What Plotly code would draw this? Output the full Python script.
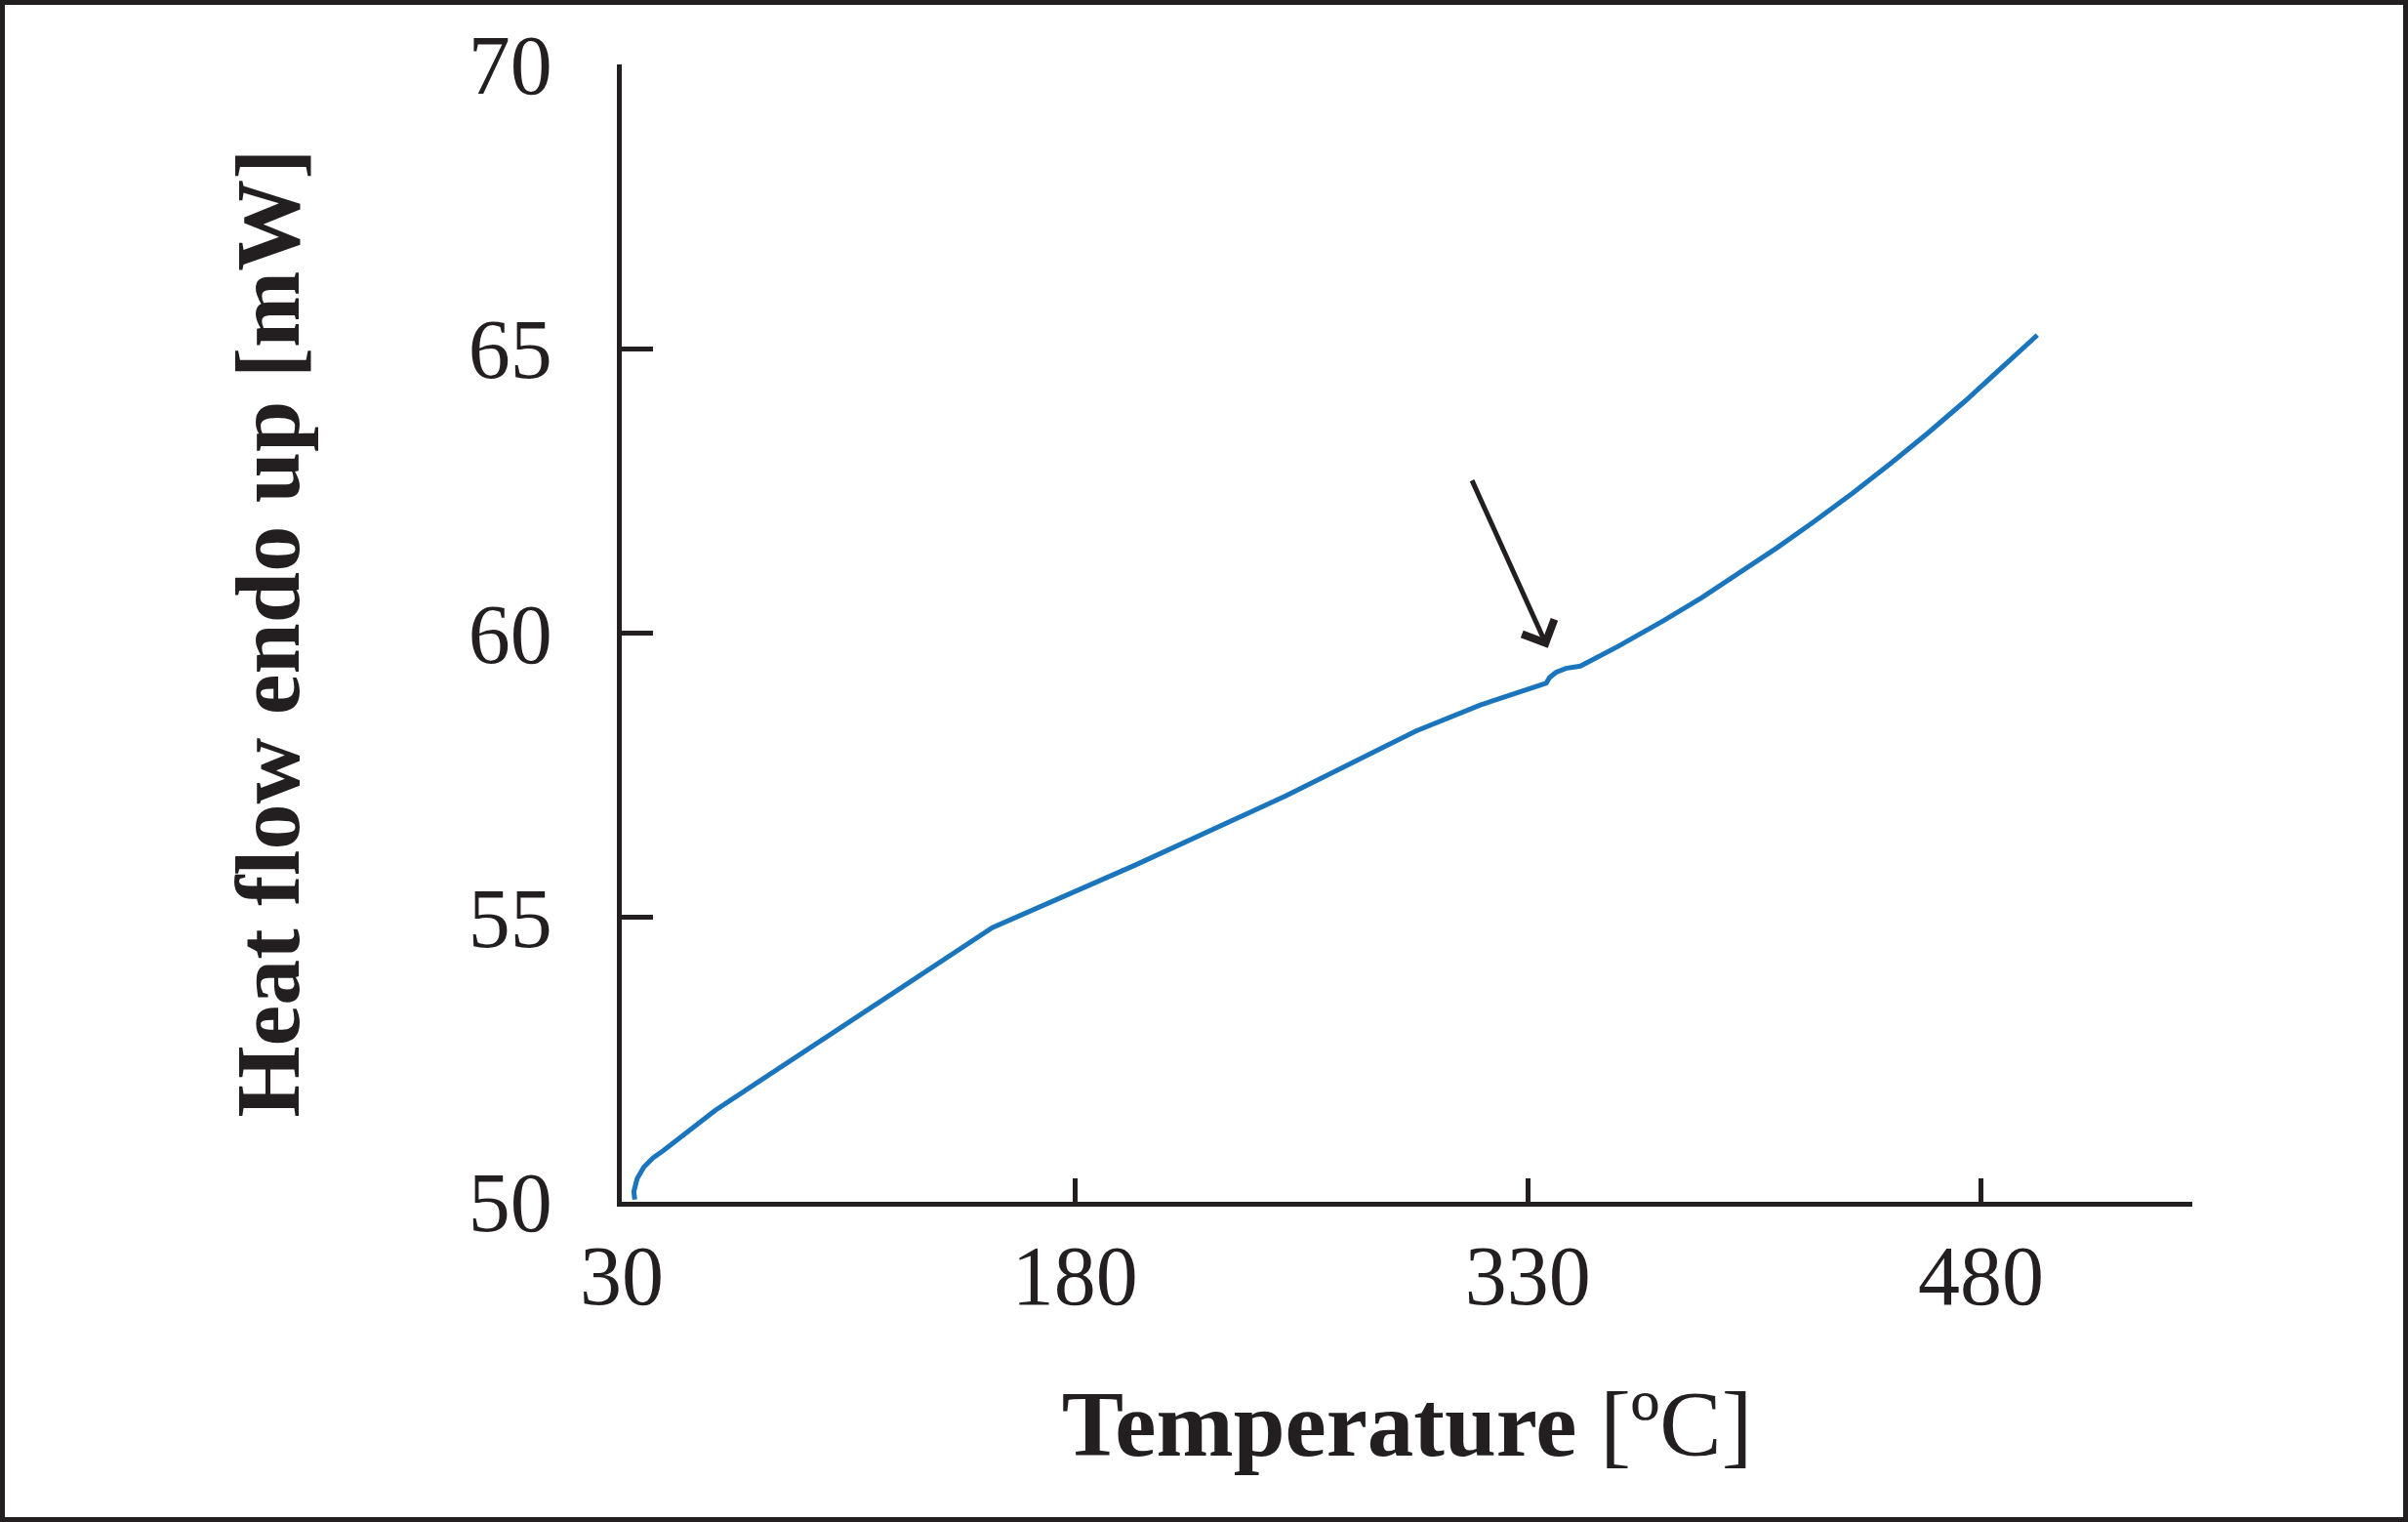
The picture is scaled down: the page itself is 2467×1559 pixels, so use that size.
import plotly.graph_objects as go

# ---- data ----
temperature = [34.3, 34.0, 35.1, 37.3, 40.5, 43.8, 61.0, 152.7,
               200.0, 250.0, 293.0, 314.5, 335.0, 336.1, 337.2, 339.3, 342.6, 345.8,
               347.4, 360.0, 375.0, 387.5, 400.0, 412.5, 425.0, 437.5, 450.0,
               462.5, 475.0, 487.0, 498.7]
heat_flow = [50.04, 50.18, 50.41, 50.61, 50.78, 50.90, 51.61, 54.82,
             55.92, 57.14, 58.28, 58.74, 59.10, 59.12, 59.22, 59.31, 59.38, 59.40,
             59.42, 59.77, 60.22, 60.62, 61.05, 61.50, 61.97, 62.46, 62.98,
             63.52, 64.09, 64.66, 65.24]

x_ticks = [30, 180, 330, 480]
y_ticks = [50, 55, 60, 65, 70]
x_range = [30, 550]
y_range = [50, 70]

arrow_tip = (336.6, 59.74)
arrow_tail = (311.3, 62.71)

INK = "#231f20"
BLUE = "#1a75bd"
FONT = "Liberation Serif"

W, H = 2467, 1559
ML, MR, MT, MB = 637, 221, 66, 328
PW, PH = W - ML - MR, H - MT - MB

fig = go.Figure()
fig.add_trace(go.Scatter(x=temperature, y=heat_flow, mode="lines",
                         line=dict(color=BLUE, width=5), showlegend=False,
                         cliponaxis=False))

fig.add_annotation(x=arrow_tip[0], y=arrow_tip[1], ax=arrow_tail[0], ay=arrow_tail[1],
                   xref="x", yref="y", axref="x", ayref="y", text="",
                   showarrow=True, arrowhead=4, arrowsize=1.4, arrowwidth=5,
                   arrowcolor=INK, standoff=0, startstandoff=0)

# outer frame around the whole picture
fig.add_shape(type="rect", xref="paper", yref="paper",
              x0=(-ML + 2.5) / PW, x1=(PW + MR - 2.5) / PW,
              y0=(-MB + 2.5) / PH, y1=(PH + MT - 2.5) / PH,
              line=dict(color=INK, width=5), layer="above")

fig.update_layout(
    width=W, height=H,
    margin=dict(l=ML, r=MR, t=MT, b=MB, pad=0),
    paper_bgcolor="white", plot_bgcolor="white",
    font=dict(family=FONT, color=INK),
    xaxis=dict(range=x_range, tickvals=x_ticks, ticks="inside", ticklen=24,
               tickwidth=5, tickcolor=INK, showline=True, linecolor=INK, linewidth=5,
               showgrid=False, zeroline=False, ticklabelstandoff=-3,
               tickfont=dict(family=FONT, size=86, color=INK),
               title=dict(text="<b>Temperature</b> [ºC]", standoff=72,
                          font=dict(family=FONT, size=95, color=INK))),
    yaxis=dict(range=y_range, tickvals=y_ticks, ticks="inside", ticklen=32,
               tickwidth=5, tickcolor=INK, showline=True, linecolor=INK, linewidth=5,
               showgrid=False, zeroline=False, ticklabelstandoff=49,
               tickfont=dict(family=FONT, size=86, color=INK),
               title=dict(text="<b>Heat flow endo up [mW]</b>", standoff=143,
                          font=dict(family=FONT, size=94, color=INK))),
)

fig.write_html("out.html", config={"displayModeBar": False},
               post_script="document.body.style.margin='0';document.body.style.overflow='hidden';")
